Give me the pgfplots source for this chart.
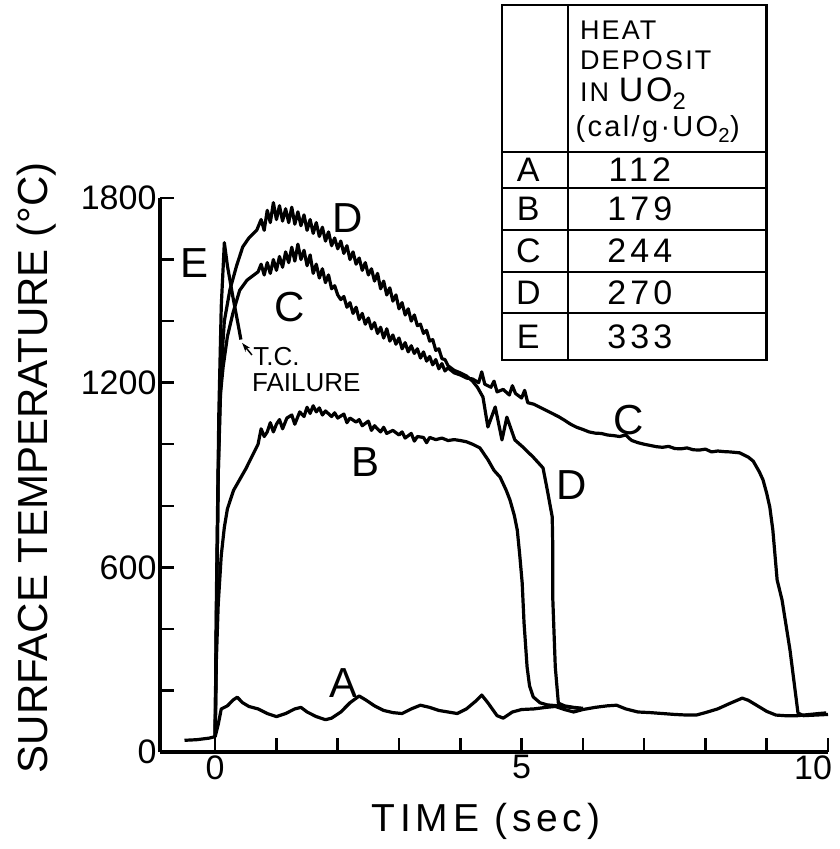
\documentclass[border=0pt]{standalone}
\usepackage{fontspec}
\setmainfont{Liberation Sans}
\newfontfamily\wide[LetterSpace=12]{Liberation Sans}
\newfontfamily\wider[LetterSpace=8]{Liberation Sans}
\usepackage{pgfplots}
\pgfplotsset{compat=1.18}
\usetikzlibrary{arrows.meta}
\newcommand\fs[1]{\fontsize{#1}{#1}\selectfont}
\begin{document}
\begin{tikzpicture}
\begin{axis}[
  scale only axis, width=668pt, height=554pt,
  xmin=-0.9, xmax=10, ymin=0, ymax=1800,
  axis x line*=bottom, axis y line*=left,
  axis line style={line width=3.5pt, -},
  xtick={0,...,10}, xticklabels={0,,,,,5,,,,,\makebox[0pt][r]{10\hspace{-4pt}}},
  ytick={0,200,...,1800}, yticklabels={0,,,600,,,1200,,,1800},
  tick align=inside, major tick length=14pt,
  tick style={line width=2.5pt, black},
  tick label style={font=\fs{34}},
  /pgf/number format/assume math mode=true,
  clip=false,
  xlabel={\wide TIME (sec)},
  ylabel={SURFACE TEMPERATURE (°C)},
  every axis x label/.style={at={(axis description cs:0.488,-0.126)}, anchor=center, font=\fs{39}},
  every axis y label/.style={at={(axis description cs:-0.184,0.513)}, anchor=center, rotate=90, font=\fs{42}},
  cycle list={{black, mark=none}},
  every axis plot post/.append style={line width=3.2pt, line join=round, mark=none},
]
% A
\addplot coordinates {(-0.5,38) (-0.3,40) (-0.1,45) (0.0,50) (0.05,90) (0.1,140) (0.2,150) (0.3,170) (0.36,178) (0.45,160) (0.55,148) (0.7,140) (0.85,125) (1.0,115) (1.15,125) (1.3,140) (1.4,145) (1.5,130) (1.65,115) (1.8,105) (1.9,110) (2.05,130) (2.2,160) (2.35,182) (2.45,170) (2.6,150) (2.75,135) (2.9,128) (3.05,125) (3.2,140) (3.35,152) (3.5,145) (3.65,135) (3.8,130) (3.95,125) (4.1,140) (4.25,165) (4.35,185) (4.45,160) (4.6,118) (4.7,110) (4.85,130) (5.0,138) (5.2,140) (5.4,145) (5.55,148) (5.7,138) (5.85,130) (6.0,138) (6.2,145) (6.4,150) (6.55,152) (6.7,140) (6.9,130) (7.1,128) (7.3,125) (7.5,122) (7.7,120) (7.85,120) (8.0,128) (8.2,140) (8.4,158) (8.6,175) (8.7,168) (8.85,150) (9.0,132) (9.15,120) (9.3,118) (9.5,118) (9.7,122) (9.85,125) (9.97,127)};
% B
\addplot coordinates {(0.0,50) (0.02,300) (0.05,480) (0.1,640) (0.15,730) (0.2,790) (0.3,850) (0.4,885) (0.5,920) (0.6,960) (0.7,1000) (0.75,1050) (0.8,1025) (0.85,1040) (0.9,1070) (0.95,1040) (1.0,1065) (1.05,1080) (1.1,1050) (1.17,1085) (1.25,1095) (1.3,1065) (1.38,1105) (1.45,1090) (1.5,1120) (1.55,1100) (1.6,1125) (1.65,1105) (1.7,1118) (1.75,1095) (1.8,1108) (1.9,1090) (1.95,1102) (2.0,1085) (2.1,1098) (2.15,1070) (2.2,1085) (2.3,1072) (2.35,1080) (2.4,1060) (2.5,1075) (2.55,1045) (2.6,1060) (2.7,1040) (2.75,1055) (2.8,1035) (2.9,1045) (3.0,1030) (3.05,1040) (3.1,1020) (3.2,1035) (3.25,1010) (3.3,1025) (3.4,1022) (3.45,1005) (3.5,1022) (3.6,1015) (3.7,1020) (3.8,1012) (3.9,1015) (4.0,1012) (4.1,1008) (4.2,1000) (4.32,988) (4.45,950) (4.55,915) (4.65,893) (4.75,850) (4.81,819) (4.88,770) (4.93,721) (4.97,640) (5.01,549) (5.04,420) (5.09,276) (5.13,215) (5.19,179) (5.3,160) (5.42,153) (5.6,150) (5.8,145) (6.0,140)};
% C
\addplot coordinates {(0.0,50) (0.02,400) (0.05,900) (0.08,1150) (0.13,1251) (0.2,1350) (0.29,1426) (0.4,1500) (0.52,1533) (0.6,1545) (0.7,1560) (0.75,1585) (0.8,1550) (0.85,1590) (0.9,1555) (0.95,1600) (1.0,1565) (1.05,1610) (1.1,1575) (1.15,1625) (1.2,1590) (1.25,1640) (1.3,1595) (1.35,1650) (1.4,1600) (1.45,1630) (1.5,1580) (1.55,1615) (1.6,1555) (1.65,1585) (1.7,1540) (1.75,1570) (1.8,1525) (1.85,1550) (1.9,1505) (1.95,1515) (2.0,1485) (2.05,1470) (2.1,1480) (2.15,1445) (2.2,1460) (2.25,1425) (2.3,1445) (2.35,1405) (2.4,1425) (2.45,1390) (2.5,1410) (2.55,1375) (2.6,1395) (2.65,1360) (2.7,1380) (2.75,1345) (2.8,1375) (2.85,1335) (2.9,1355) (2.95,1325) (3.0,1345) (3.05,1310) (3.1,1330) (3.15,1300) (3.2,1320) (3.25,1295) (3.3,1310) (3.35,1280) (3.4,1300) (3.45,1270) (3.5,1285) (3.55,1258) (3.6,1275) (3.65,1245) (3.7,1262) (3.75,1238) (3.8,1248) (3.9,1232) (4.0,1225) (4.1,1215) (4.2,1212) (4.3,1200) (4.35,1235) (4.4,1195) (4.5,1185) (4.55,1205) (4.6,1170) (4.7,1178) (4.8,1160) (4.85,1190) (4.9,1165) (5.0,1150) (5.05,1175) (5.1,1135) (5.2,1130) (5.3,1120) (5.4,1110) (5.5,1100) (5.6,1090) (5.7,1078) (5.8,1065) (5.9,1055) (6.0,1048) (6.1,1040) (6.2,1036) (6.3,1035) (6.4,1030) (6.5,1028) (6.6,1025) (6.7,1030) (6.75,1020) (6.8,1012) (6.9,1005) (7.0,1000) (7.1,996) (7.2,992) (7.3,990) (7.4,993) (7.5,986) (7.6,985) (7.7,988) (7.8,982) (7.9,981) (8.0,984) (8.1,975) (8.2,978) (8.3,976) (8.4,975) (8.56,972) (8.7,958) (8.78,945) (8.88,910) (8.94,884) (9.0,840) (9.05,796) (9.1,721) (9.17,559) (9.25,494) (9.38,331) (9.51,127) (9.6,118) (9.8,120) (10.0,122)};
% D
\addplot coordinates {(0.0,50) (0.02,400) (0.05,900) (0.1,1250) (0.15,1400) (0.24,1501) (0.35,1580) (0.45,1641) (0.55,1670) (0.68,1696) (0.75,1730) (0.8,1695) (0.85,1760) (0.9,1720) (0.95,1785) (1.0,1730) (1.05,1775) (1.1,1725) (1.15,1765) (1.2,1720) (1.25,1770) (1.3,1715) (1.35,1755) (1.4,1710) (1.45,1745) (1.5,1695) (1.55,1730) (1.6,1685) (1.65,1720) (1.7,1675) (1.75,1705) (1.8,1660) (1.85,1690) (1.9,1645) (1.95,1670) (2.0,1635) (2.05,1660) (2.1,1620) (2.15,1645) (2.2,1600) (2.25,1625) (2.3,1585) (2.35,1605) (2.4,1565) (2.45,1590) (2.5,1550) (2.55,1570) (2.6,1530) (2.65,1555) (2.7,1505) (2.75,1530) (2.8,1485) (2.85,1508) (2.9,1465) (2.95,1485) (3.0,1440) (3.05,1460) (3.1,1420) (3.15,1440) (3.2,1400) (3.25,1420) (3.3,1385) (3.35,1390) (3.4,1360) (3.45,1370) (3.5,1335) (3.55,1340) (3.6,1305) (3.65,1310) (3.7,1278) (3.75,1275) (3.8,1255) (3.9,1240) (4.0,1232) (4.1,1222) (4.2,1205) (4.28,1185) (4.37,1153) (4.45,1056) (4.57,1121) (4.68,1014) (4.76,1088) (4.89,1014) (5.02,991) (5.19,958) (5.35,923) (5.42,851) (5.5,764) (5.51,656) (5.51,494) (5.55,276) (5.6,159) (5.7,150) (5.85,145) (6.0,142)};
% E
\addplot coordinates {(0.0,50) (0.02,500) (0.06,1100) (0.1,1450) (0.15,1655) (0.2,1580) (0.29,1478) (0.37,1394) (0.42,1340)};
% curve labels
\node[font=\fs{42}] at (axis cs:-0.33,1589) {E};
\node[font=\fs{42}] at (axis cs:2.17,1735) {D};
\node[font=\fs{42}] at (axis cs:1.22,1446) {C};
\node[font=\fs{42}] at (axis cs:2.46,942) {B};
\node[font=\fs{42}] at (axis cs:5.81,867) {D};
\node[font=\fs{42}] at (axis cs:6.74,1079) {C};
\node[font=\fs{42}] at (axis cs:2.09,224) {A};
% T.C. failure
\draw[line width=1.5pt, -{Stealth[length=9pt,width=6pt]}] (axis cs:0.60,1290) -- (axis cs:0.44,1329);
\node[font=\fs{26}, anchor=west, inner sep=0pt] at (axis cs:0.62,1285) {T.C.};
\node[font=\fs{26}, anchor=west, inner sep=0pt] at (axis cs:0.60,1200) {FAILURE};
% table
\draw[line width=2.5pt] (axis cs:4.68,2427) rectangle (axis cs:9.0,1274);
\draw[line width=2.5pt] (axis cs:5.76,2427) -- (axis cs:5.76,1274);
\pgfplotsinvokeforeach{1949,1832,1696,1559,1426}{
  \draw[line width=2.5pt] (axis cs:4.68,#1) -- (axis cs:9.0,#1);
}
\node[font=\fs{27}, anchor=west, inner sep=0pt] at (axis cs:5.95,2346) {\wider HEAT};
\node[font=\fs{27}, anchor=west, inner sep=0pt] at (axis cs:5.95,2248) {\wider DEPOSIT};
\node[font=\fs{27}, anchor=west, inner sep=0pt] at (axis cs:5.95,2140) {\wider IN {\fs{34}UO\textsubscript{2}}};
\node[font=\fs{29}, anchor=west, inner sep=0pt] at (axis cs:5.88,2024) {\wider (cal/g·UO\textsubscript{2})};
\node[font=\fs{34}] at (axis cs:5.11,1891) {A};
\node[font=\fs{34}] at (axis cs:5.11,1764) {B};
\node[font=\fs{34}] at (axis cs:5.11,1628) {C};
\node[font=\fs{34}] at (axis cs:5.11,1493) {D};
\node[font=\fs{34}] at (axis cs:5.11,1350) {E};
\node[font=\fs{34}] at (axis cs:6.93,1891) {\wide 112};
\node[font=\fs{34}] at (axis cs:6.93,1764) {\wide 179};
\node[font=\fs{34}] at (axis cs:6.93,1628) {\wide 244};
\node[font=\fs{34}] at (axis cs:6.93,1493) {\wide 270};
\node[font=\fs{34}] at (axis cs:6.93,1350) {\wide 333};
\coordinate (O) at (rel axis cs:0,0);
\end{axis}
\pgfresetboundingbox
\path[use as bounding box] (O) ++(-160pt,-97pt) rectangle ++(839pt,849pt);
\end{tikzpicture}
\end{document}
